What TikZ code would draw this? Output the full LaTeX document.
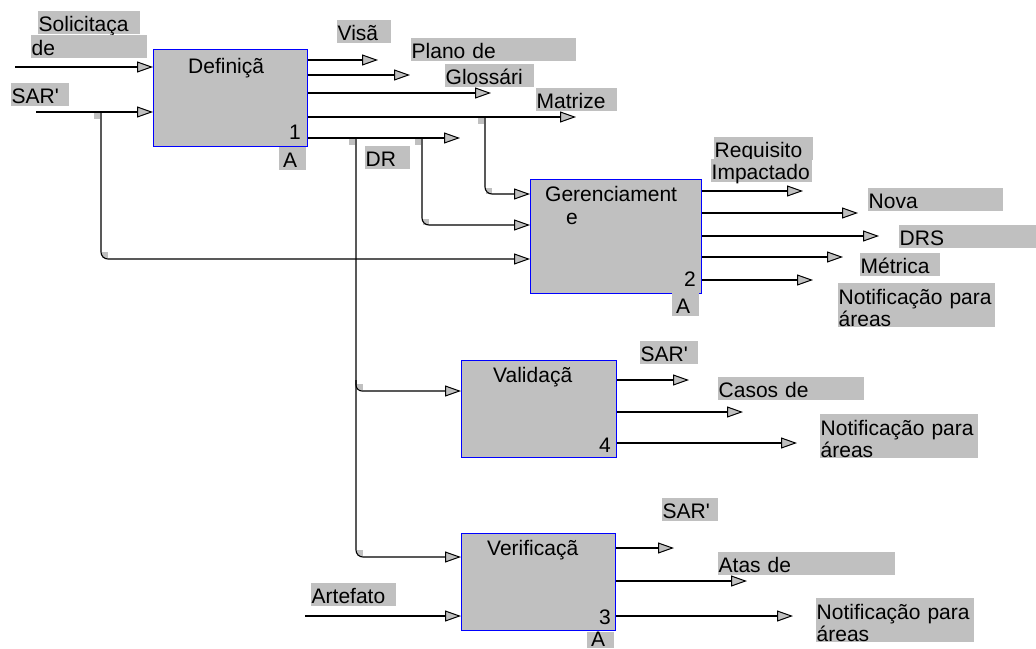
\documentclass[tikz,border=0pt]{standalone}
\usepackage{fontspec}
\setmainfont{Liberation Sans}
\usetikzlibrary{arrows.meta}
\definecolor{bgray}{RGB}{192,192,192}
\definecolor{bblue}{RGB}{0,0,255}
\hyphenpenalty=10000
\exhyphenpenalty=10000
\begin{document}
\begin{tikzpicture}[x=1pt,y=-1pt,
  font=\fontsize{21}{22}\selectfont,
  proc/.style={draw=bblue, line width=1.4pt, fill=bgray, inner sep=0pt, anchor=north west},
  txt/.style={inner sep=0pt},
  lbl/.style={fill=bgray, inner xsep=0.5pt, inner ysep=0pt, anchor=north west, align=left,
              text width=#1, text height=20.5pt, text depth=2pt},
  lbltwo/.style={fill=bgray, inner xsep=0.5pt, inner ysep=0pt, anchor=north west, align=left,
              text width=#1, text height=21pt, text depth=23pt},
  conn/.style={line width=1.1pt, black},
  arr/.style={conn, -{Triangle[length=16pt,width=11pt,fill=bgray,line width=1pt]}},
  rc/.style={rounded corners=7pt},
  jsq/.style={fill=bgray}]
\useasboundingbox (0,0) rectangle (1036,648);
\fill[white] (0,0) rectangle (1036,648);

% ---------- boxes ----------
\node[proc, minimum width=154, minimum height=97] (b1) at (153,49) {};
\node[proc, minimum width=171, minimum height=114] (b2) at (530,179) {};
\node[proc, minimum width=155, minimum height=97] (b4) at (461,360) {};
\node[proc, minimum width=154, minimum height=97] (b3) at (461,533) {};

\node[txt, anchor=base west] (t1) at (188,73) {Definiçã};
\node[txt, anchor=base west] (t2) at (545,201) {Gerenciament};
\node[txt, anchor=base west] (t2b) at (566,224) {e};
\node[txt, anchor=base west] (t4) at (493,382) {Validaçã};
\node[txt, anchor=base west] (t3) at (487,555) {Verificaçã};

\node[txt, anchor=base east] (n1) at (301,139) {1};
\node[txt, anchor=base east] (n2) at (696,286) {2};
\node[txt, anchor=base east] (n4) at (611,452) {4};
\node[txt, anchor=base east] (n3) at (611,624) {3};

% ---------- labels ----------
\node[lbl=101pt] (lSol) at (38,11) {Solicitaça};
\node[lbl=115pt] (lde) at (31,35) {de};
\node[lbl=57pt] (lSAR1) at (11,83) {SAR\textquotesingle};
\node[lbl=26pt] (lA1) at (279,147) {\,A};
\node[lbl=53pt] (lVis) at (337,20) {Visã};
\node[lbl=164pt] (lPla) at (411,38) {Plano de};
\node[lbl=88pt] (lGlo) at (445,64) {Glossári};
\node[lbl=80pt] (lMat) at (536,88) {Matrize};
\node[lbl=44pt] (lDR) at (365,146) {DR};

\node[lbl=98pt] (lReq) at (714,137) {Requisito};
\node[lbl=100pt] (lImp) at (711,159) {Impactado};
\node[lbl=134pt] (lNov) at (868,188) {Nova};
\node[lbl=137pt] (lDRS) at (899,225) {DRS};
\node[lbl=79pt] (lMet) at (860,253) {Métrica};
\node[lbltwo=156pt] (lNot2) at (838,283) {Notificação para\\áreas};
\node[lbl=26pt] (lA2) at (672,293) {\,A};

\node[lbl=57pt] (lSAR4) at (640,341) {SAR\textquotesingle};
\node[lbl=145pt] (lCas) at (718,377) {Casos de};
\node[lbltwo=157pt] (lNot4) at (820,414) {Notificação para\\áreas};

\node[lbl=55pt] (lSAR3) at (662,498) {SAR\textquotesingle};
\node[lbl=176pt] (lAta) at (718,552) {Atas de};
\node[lbl=84pt] (lArt) at (311,583) {Artefato};
\node[lbltwo=157pt] (lNot3) at (816,598) {Notificação para\\áreas};
\node[lbl=26pt, text height=14pt, text depth=2pt] (lA3) at (587,632) {\,A};

% ---------- junction marks ----------
\fill[jsq] (94,113) rectangle (100,119);
\fill[jsq] (102,252) rectangle (108,258);
\fill[jsq] (349,139) rectangle (355,145);
\fill[jsq] (415,139) rectangle (421,145);
\fill[jsq] (478,118) rectangle (484,124);
\fill[jsq] (486,188) rectangle (492,194);
\fill[jsq] (423,219) rectangle (429,225);
\fill[jsq] (357,384) rectangle (363,390);
\fill[jsq] (357,550) rectangle (363,556);

% ---------- coordinates ----------
\coordinate (i11) at (15,67);
\coordinate (i12) at (36,112);
\coordinate (o11) at (378,60);
\coordinate (o12) at (410,75);
\coordinate (o13) at (491,93);
\coordinate (o14) at (576,117);
\coordinate (o15) at (460,138);
\coordinate (j1) at (101,112);
\coordinate (k23) at (101,259);
\coordinate (j2) at (485,117);
\coordinate (k21) at (485,194);
\coordinate (j4) at (422,138);
\coordinate (k22) at (422,225);
\coordinate (j3) at (356,138);
\coordinate (k31) at (356,557);
\coordinate (j5) at (356,380);
\coordinate (k41) at (356,391);
\coordinate (i32) at (305,616);

\coordinate (o21) at (803,191);
\coordinate (o22) at (858,213);
\coordinate (o23) at (879,236);
\coordinate (o24) at (843,257);
\coordinate (o25) at (813,280);

\coordinate (o41) at (689,380);
\coordinate (o42) at (743,412);
\coordinate (o43) at (797,443);

\coordinate (o31) at (674,548);
\coordinate (o32) at (747,581);
\coordinate (o33) at (793,616);

% ---------- connectors ----------
\draw[arr] (i11) -- (i11 -| b1.west);
\draw[arr] (i12) -- (i12 -| b1.west);
\draw[arr, rc] (j1) -- (k23) -- (k23 -| b2.west);

\draw[arr] (o11 -| b1.east) -- (o11);
\draw[arr] (o12 -| b1.east) -- (o12);
\draw[arr] (o13 -| b1.east) -- (o13);
\draw[arr] (o14 -| b1.east) -- (o14);
\draw[arr] (o15 -| b1.east) -- (o15);

\draw[arr, rc] (j2) -- (k21) -- (k21 -| b2.west);
\draw[arr, rc] (j4) -- (k22) -- (k22 -| b2.west);
\draw[arr, rc] (j3) -- (k31) -- (k31 -| b3.west);
\draw[arr, rounded corners=6pt] (j5) -- (k41) -- (k41 -| b4.west);
\draw[arr] (i32) -- (i32 -| b3.west);

\draw[arr] (o21 -| b2.east) -- (o21);
\draw[arr] (o22 -| b2.east) -- (o22);
\draw[arr] (o23 -| b2.east) -- (o23);
\draw[arr] (o24 -| b2.east) -- (o24);
\draw[arr] (o25 -| b2.east) -- (o25);

\draw[arr] (o41 -| b4.east) -- (o41);
\draw[arr] (o42 -| b4.east) -- (o42);
\draw[arr] (o43 -| b4.east) -- (o43);

\draw[arr] (o31 -| b3.east) -- (o31);
\draw[arr] (o32 -| b3.east) -- (o32);
\draw[arr] (o33 -| b3.east) -- (o33);
\end{tikzpicture}
\end{document}
